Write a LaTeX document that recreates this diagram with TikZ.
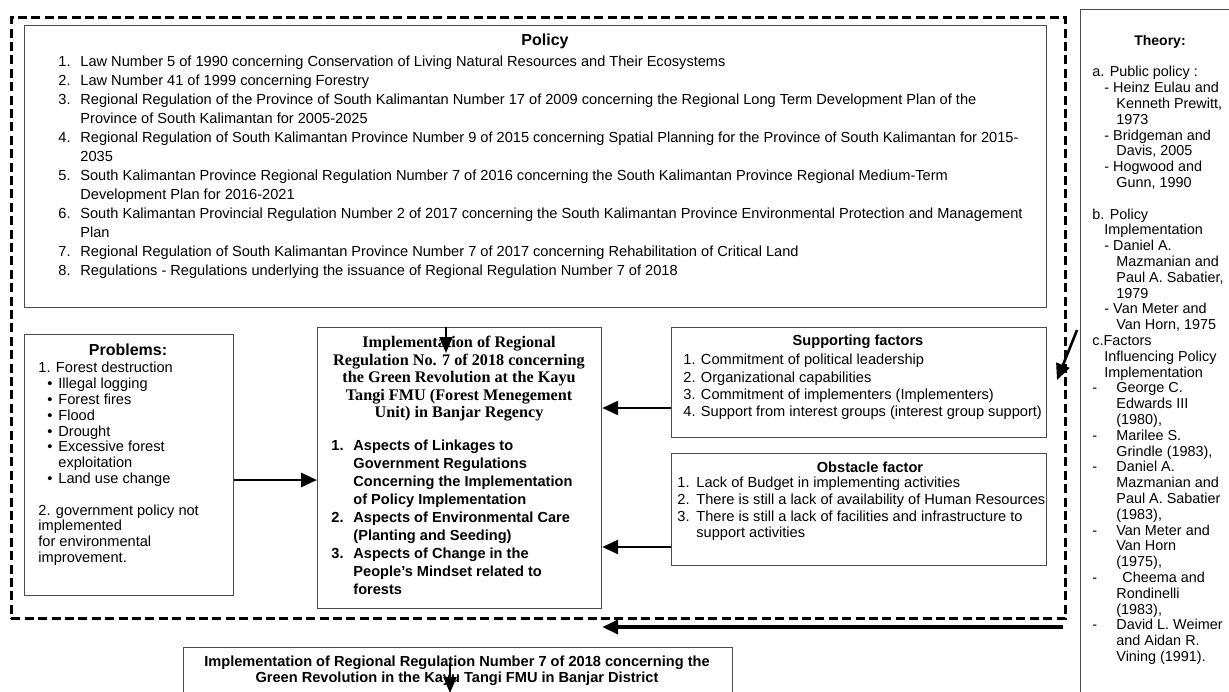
\documentclass[tikz,border=0pt]{standalone}
\usepackage{fontspec}
\setmainfont{Liberation Sans}
\newfontfamily\titleserif{Liberation Serif}
\usetikzlibrary{arrows.meta,positioning}

\tikzset{
  box/.style={draw=black!70, line width=0.6pt, anchor=north west, inner sep=0pt},
  txt/.style={anchor=north west, inner sep=0pt, align=left},
  hd/.style={inner sep=0pt, font=\bfseries\fontsize{8}{9}\selectfont},
  arr/.style={line width=1.3pt, -{Triangle[length=8pt,width=7pt]}},
  arrsmall/.style={line width=1pt, -{Triangle[length=8pt,width=6.5pt]}},
}
\newcommand{\num}[1]{\makebox[11pt][l]{#1}}
\newcommand{\bul}{\hspace*{4.5pt}\makebox[5.5pt][l]{\textbullet}}

\begin{document}
\begin{tikzpicture}[x=0.5pt,y=-0.5pt]
  \path[fill=white, use as bounding box] (0,0) rectangle (1229,691);

  % outer frame
  \node[box, draw=black, line width=1.4pt, dash pattern=on 4.5pt off 2.2pt,
        minimum width=527pt, minimum height=300.5pt] (frame) at (10,16) {};

  % boxes
  \node[box, minimum width=511pt, minimum height=141pt] (policy) at (24,25) {};
  \node[box, minimum width=104.5pt, minimum height=130.5pt] (problems) at (24,334) {};
  \node[box, minimum width=142pt, minimum height=140.5pt] (center) at (317,327) {};
  \node[box, minimum width=187.5pt, minimum height=55pt] (support) at (671,327) {};
  \node[box, minimum width=187.5pt, minimum height=56pt] (obstacle) at (671,453) {};
  \node[box, minimum width=85pt, minimum height=350pt] (theory) at (1080,9) {};
  \node[box, minimum width=274.5pt, minimum height=30pt] (result) at (183,647) {};

  % policy
  \node[hd] (policyhd) at (545,41) {Policy};
  \node[txt, font=\fontsize{7.3}{9.5}\selectfont] (policylist) at (58,56) {%
    \num{1.}Law Number 5 of 1990 concerning Conservation of Living Natural Resources and Their Ecosystems\\
    \num{2.}Law Number 41 of 1999 concerning Forestry\\
    \num{3.}Regional Regulation of the Province of South Kalimantan Number 17 of 2009 concerning the Regional Long Term Development Plan of the\\
    \num{}Province of South Kalimantan for 2005-2025\\
    \num{4.}Regional Regulation of South Kalimantan Province Number 9 of 2015 concerning Spatial Planning for the Province of South Kalimantan for 2015-\\
    \num{}2035\\
    \num{5.}South Kalimantan Province Regional Regulation Number 7 of 2016 concerning the South Kalimantan Province Regional Medium-Term\\
    \num{}Development Plan for 2016-2021\\
    \num{6.}South Kalimantan Provincial Regulation Number 2 of 2017 concerning the South Kalimantan Province Environmental Protection and Management\\
    \num{}Plan\\
    \num{7.}Regional Regulation of South Kalimantan Province Number 7 of 2017 concerning Rehabilitation of Critical Land\\
    \num{8.}Regulations - Regulations underlying the issuance of Regional Regulation Number 7 of 2018};

  % problems
  \node[hd] (problemshd) at (128,350) {Problems:};
  \node[txt, font=\fontsize{7.3}{7.9}\selectfont] (problemslist) at (38,362) {%
    1. Forest destruction\\
    \bul Illegal logging\\
    \bul Forest fires\\
    \bul Flood\\
    \bul Drought\\
    \bul Excessive forest\\
    \hspace*{10pt}exploitation\\
    \bul Land use change\\[7.9pt]
    2. government policy not\\
    implemented\\
    for environmental\\
    improvement.};

  % implementation
  \node[anchor=north, inner sep=0pt, align=center,
        font=\titleserif\bfseries\fontsize{8.1}{8.75}\selectfont] (centerhd) at (459,336) {%
    Implementation of Regional\\
    Regulation No. 7 of 2018 concerning\\
    the Green Revolution at the Kayu\\
    Tangi FMU (Forest Menegement\\
    Unit) in Banjar Regency};
  \node[txt, font=\bfseries\fontsize{7.3}{9}\selectfont] (centerlist) at (331,440) {%
    \num{1.}Aspects of Linkages to\\
    \num{}Government Regulations\\
    \num{}Concerning the Implementation\\
    \num{}of Policy Implementation\\
    \num{2.}Aspects of Environmental Care\\
    \num{}(Planting and Seeding)\\
    \num{3.}Aspects of Change in the\\
    \num{}People's Mindset related to\\
    \num{}forests};

  % factors
  \node[hd, font=\bfseries\fontsize{7.3}{8}\selectfont] (supporthd) at (858,342) {Supporting factors};
  \node[txt, font=\fontsize{7.3}{8.6}\selectfont] (supportlist) at (683,354) {%
    1. Commitment of political leadership\\
    2. Organizational capabilities\\
    3. Commitment of implementers (Implementers)\\
    4. Support from interest groups (interest group support)};
  \node[hd, font=\bfseries\fontsize{7.3}{8}\selectfont] (obstaclehd) at (870,467) {Obstacle factor};
  \node[txt, font=\fontsize{7.3}{8.3}\selectfont] (obstaclelist) at (677,477) {%
    \makebox[9.5pt][l]{1.}Lack of Budget in implementing activities\\
    \makebox[9.5pt][l]{2.}There is still a lack of availability of Human Resources\\
    \makebox[9.5pt][l]{3.}There is still a lack of facilities and infrastructure to\\
    \makebox[9.5pt][l]{}support activities};

  % theory
  \node[hd, font=\bfseries\fontsize{7}{8}\selectfont] (theoryhd) at (1160,42) {Theory:};
  \node[txt, font=\fontsize{7.2}{7.9}\selectfont] (theorylist) at (1092,66) {%
    a. Public policy :\\
    \hspace*{6pt}- Heinz Eulau and\\
    \hspace*{12pt}Kenneth Prewitt,\\
    \hspace*{12pt}1973\\
    \hspace*{6pt}- Bridgeman and\\
    \hspace*{12pt}Davis, 2005\\
    \hspace*{6pt}- Hogwood and\\
    \hspace*{12pt}Gunn, 1990\\[7.9pt]
    b. Policy\\
    \hspace*{6pt}Implementation\\
    \hspace*{6pt}- Daniel A.\\
    \hspace*{12pt}Mazmanian and\\
    \hspace*{12pt}Paul A. Sabatier,\\
    \hspace*{12pt}1979\\
    \hspace*{6pt}- Van Meter and\\
    \hspace*{12pt}Van Horn, 1975\\
    c.Factors\\
    \hspace*{6pt}Influencing Policy\\
    \hspace*{6pt}Implementation\\
    \makebox[12pt][l]{-}George C.\\
    \hspace*{12pt}Edwards III\\
    \hspace*{12pt}(1980),\\
    \makebox[12pt][l]{-}Marilee S.\\
    \hspace*{12pt}Grindle (1983),\\
    \makebox[12pt][l]{-}Daniel A.\\
    \hspace*{12pt}Mazmanian and\\
    \hspace*{12pt}Paul A. Sabatier\\
    \hspace*{12pt}(1983),\\
    \makebox[12pt][l]{-}Van Meter and\\
    \hspace*{12pt}Van Horn\\
    \hspace*{12pt}(1975),\\
    \makebox[12pt][l]{-}\hspace*{3pt}Cheema and\\
    \hspace*{12pt}Rondinelli\\
    \hspace*{12pt}(1983),\\
    \makebox[12pt][l]{-}David L. Weimer\\
    \hspace*{12pt}and Aidan R.\\
    \hspace*{12pt}Vining (1991).};

  % result
  \node[anchor=north, inner sep=0pt, align=center,
        font=\bfseries\fontsize{7.3}{8}\selectfont] (resulttxt) at (457,656) {%
    Implementation of Regional Regulation Number 7 of 2018 concerning the\\
    Green Revolution in the Kayu Tangi FMU in Banjar District};

  % connectors
  \coordinate (thfrom) at (1077,330);
  \coordinate (thto) at (1057,380);
  \coordinate (fb) at (1063,627);
  \coordinate (rfrom) at (450,663);
  \draw[arr] (problems.east |- 0,480) -- (center.west |- 0,480);
  \draw[arr] (support.west |- 0,408) -- (center.east |- 0,408);
  \draw[arr] (obstacle.west |- 0,547) -- (center.east |- 0,547);
  \draw[arr] (thfrom) -- (thto);
  \draw[arr, line width=2pt] (fb) -- (fb -| center.east);
  \draw[arrsmall] (center.north -| 446,0) -- (446,353);
  \draw[arrsmall] (rfrom) -- (450,693);
\end{tikzpicture}
\end{document}
